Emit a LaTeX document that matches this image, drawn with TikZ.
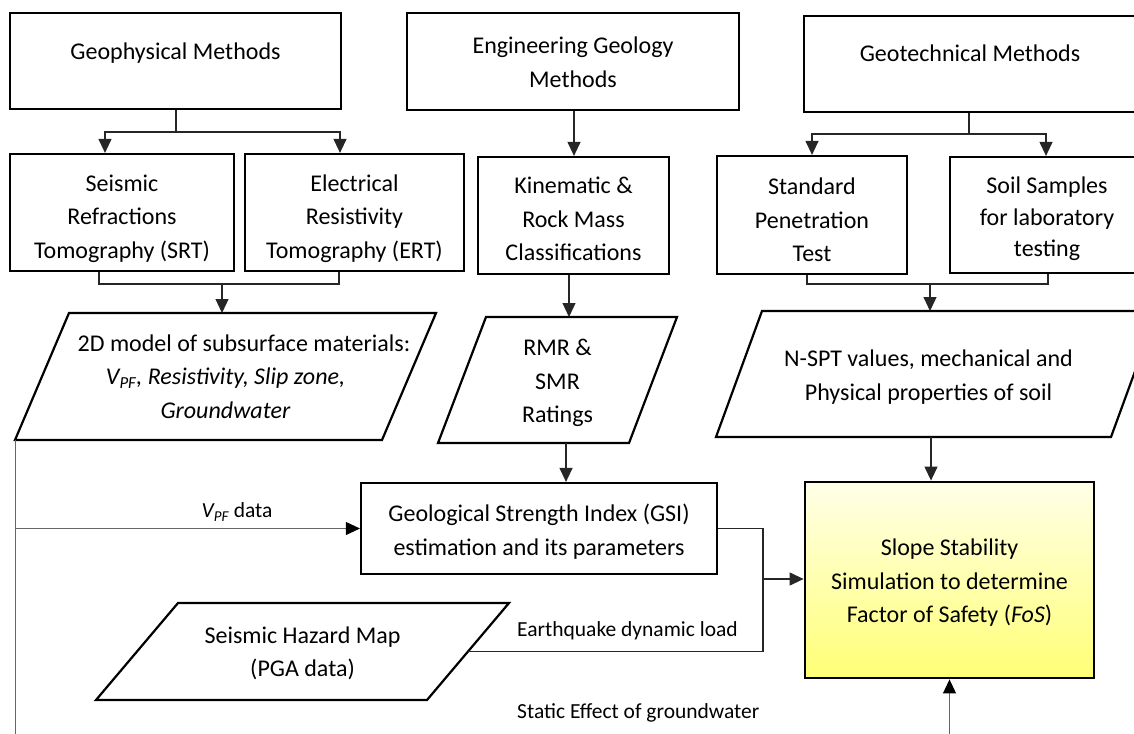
\documentclass[tikz,border=0pt]{standalone}
\usepackage{fontspec}
\setmainfont{Carlito}
\usetikzlibrary{arrows.meta,calc}
\tikzset{
  boxfont/.style={font=\fontsize{24}{33.5}\selectfont},
  labfont/.style={font=\fontsize{21.5}{26}\selectfont},
  stepbox/.style={draw=black, line width=2.2pt, rectangle, inner sep=0pt},
  paranode/.style={draw=none, rectangle, inner sep=0pt, outer sep=0pt},
  paraline/.style={draw=black, line width=2.2pt, line join=miter},
  fosbox/.style={draw=black, line width=2.8pt, rectangle, inner sep=0pt,
    top color={rgb,255:red,255;green,255;blue,232}, bottom color={rgb,255:red,255;green,255;blue,118}},
  txt/.style={boxfont, align=center, inner sep=0pt},
  conn/.style={line width=1.2pt, draw=black!85},
  arr/.style={conn, -{Triangle[length=14pt,width=13pt]}},
  thinconn/.style={line width=0.9pt, draw=black!60},
  thinarr/.style={thinconn, -{Triangle[length=14pt,width=13pt,color=black]}},
  lab/.style={labfont, inner sep=0pt}
}
\begin{document}
\begin{tikzpicture}[x=1pt,y=-1pt]
\useasboundingbox (0,0) rectangle (1134,733);
\clip (0,0) rectangle (1134,733);

% ---- column 1: geophysics
\node[stepbox, minimum width=331, minimum height=96] (geo) at (175.5,61) {};
\node[txt] (geoT) at ([yshift=8]geo.center) {Geophysical Methods};
\node[stepbox, minimum width=224, minimum height=117] (srt) at (122,212.5) {};
\node[txt] (srtT) at ([yshift=-6]srt.center) {Seismic\\Refractions\\Tomography (SRT)};
\node[stepbox, minimum width=219, minimum height=117] (ert) at (354.5,212.5) {};
\node[txt] (ertT) at ([yshift=-6]ert.center) {Electrical\\Resistivity\\Tomography (ERT)};
\node[paranode, minimum width=421, minimum height=127] (m2d) at (225.5,376.5) {};
\draw[paraline] ([xshift=54]m2d.north west) -- (m2d.north east) -- ([xshift=-54]m2d.south east) -- (m2d.south west) -- cycle;
\node[txt] (m2dT) at (m2d.center)
  {\hspace*{37pt}2D model of subsurface materials:\\\textit{V\textsubscript{PF}, Resistivity, Slip zone,}\\\textit{Groundwater}};

% ---- column 2: engineering geology
\node[stepbox, minimum width=332, minimum height=97] (eng) at (573,61.5) {};
\node[txt] (engT) at ([yshift=-1]eng.center) {Engineering Geology\\Methods};
\node[stepbox, minimum width=191, minimum height=117] (kin) at (573.5,215.5) {};
\node[txt] (kinT) at ([yshift=-3.5]kin.center) {Kinematic \&\\Rock Mass\\Classifications};
\node[paranode, minimum width=239, minimum height=126] (rmr) at (557.5,380) {};
\draw[paraline] ([xshift=48]rmr.north west) -- (rmr.north east) -- ([xshift=-48]rmr.south east) -- (rmr.south west) -- cycle;
\node[txt] (rmrT) at ([yshift=-3]rmr.center) {RMR \&\\SMR\\Ratings};
\node[stepbox, minimum width=356, minimum height=91] (gsi) at (539,528.5) {};
\node[txt] (gsiT) at ([yshift=-3]gsi.center) {Geological Strength Index (GSI)\\estimation and its parameters};

% ---- column 3: geotechnics
\node[stepbox, minimum width=336, minimum height=96] (gtc) at (972,64) {};
\node[txt] (gtcT) at ([xshift=-2,yshift=10.5]gtc.center) {Geotechnical Methods};
\node[stepbox, minimum width=190, minimum height=118] (spt) at (812,215) {};
\node[txt] (sptT) at ([yshift=-5]spt.center) {Standard\\Penetration\\Test};
\node[stepbox, minimum width=194, minimum height=116] (soil) at (1047,215) {};
\node[txt, font=\fontsize{24}{31.5}\selectfont] (soilT) at ([yshift=-4]soil.center) {Soil Samples\\for laboratory\\testing};
\node[paranode, minimum width=441, minimum height=126] (nspt) at (936.5,374) {};
\draw[paraline] ([xshift=46]nspt.north west) -- (nspt.north east) -- ([xshift=-46]nspt.south east) -- (nspt.south west) -- cycle;
\node[txt] (nsptT) at ([xshift=-8,yshift=-3]nspt.center) {N-SPT values, mechanical and\\Physical properties of soil};

% ---- result and seismic input
\node[fosbox, minimum width=289, minimum height=196] (fos) at (949.5,580) {};
\node[txt] (fosT) at ([yshift=-3]fos.center) {Slope Stability\\Simulation to determine\\Factor of Safety (\textit{FoS})};
\node[paranode, minimum width=413, minimum height=97] (seis) at (302.5,651.5) {};
\draw[paraline] ([xshift=82]seis.north west) -- (seis.north east) -- ([xshift=-82]seis.south east) -- (seis.south west) -- cycle;
\node[txt] (seisT) at ([yshift=-2]seis.center) {Seismic Hazard Map\\(PGA data)};

% ---- connectors: geophysics
\coordinate (gj) at (176,132);
\draw[conn] (geo.south -| gj) -- (gj);
\draw[arr] (gj) -| ([xshift=-17]srt.north);
\draw[arr] (gj) -| ([xshift=-14.5]ert.north);
\coordinate (mj) at (222,284);
\draw[conn] ([xshift=-23]srt.south) |- (mj) -| ([xshift=-15.5]ert.south);
\draw[arr] (mj) -- (mj |- m2d.north);

% ---- connectors: engineering geology
\draw[arr] ([xshift=1]eng.south) -- ([xshift=1]eng.south |- kin.north);
\draw[arr] ([xshift=-4.5]kin.south) -- ([xshift=-4.5]kin.south |- rmr.north);
\draw[arr] ([xshift=8.5]rmr.south) -- ([xshift=8.5]rmr.south |- gsi.north);

% ---- connectors: geotechnics
\coordinate (tj) at (969,134);
\draw[conn] (gtc.south -| tj) -- (tj);
\draw[arr] (tj) -| (spt.north);
\draw[arr] (tj) -| ([xshift=-1]soil.north);
\coordinate (nj) at (930,284);
\draw[conn] ([xshift=-5]spt.south) |- (nj) -| ([xshift=1]soil.south);
\draw[arr] (nj) -- (nj |- nspt.north);
\draw[arr] ([xshift=-5.5]nspt.south) -- ([xshift=-5.5]nspt.south |- fos.north);

% ---- connectors into FoS
\coordinate (fj) at (763,579);
\draw[conn] (gsi.east) -| (fj);
\draw[conn] ([xshift=-41]seis.east) -| (fj);
\draw[arr] (fj) -- (fj -| fos.west);
\node[lab, anchor=west] (eql) at (517,631) {Earthquake dynamic load};

% ---- connectors from the 2D model
\coordinate (vj) at (m2d.south west |- gsi.west);
\draw[thinconn] (m2d.south west) -- (vj);
\draw[thinarr] (vj) -- (gsi.west);
\node[lab] (vpfl) at (237,512) {\textit{V\textsubscript{PF}} data};
\coordinate (gw) at (500,752);
\draw[thinarr] (vj) |- (gw) -| (fos.south);
\node[lab, anchor=west] (gwl) at (517,713) {Static Effect of groundwater};
\end{tikzpicture}
\end{document}
